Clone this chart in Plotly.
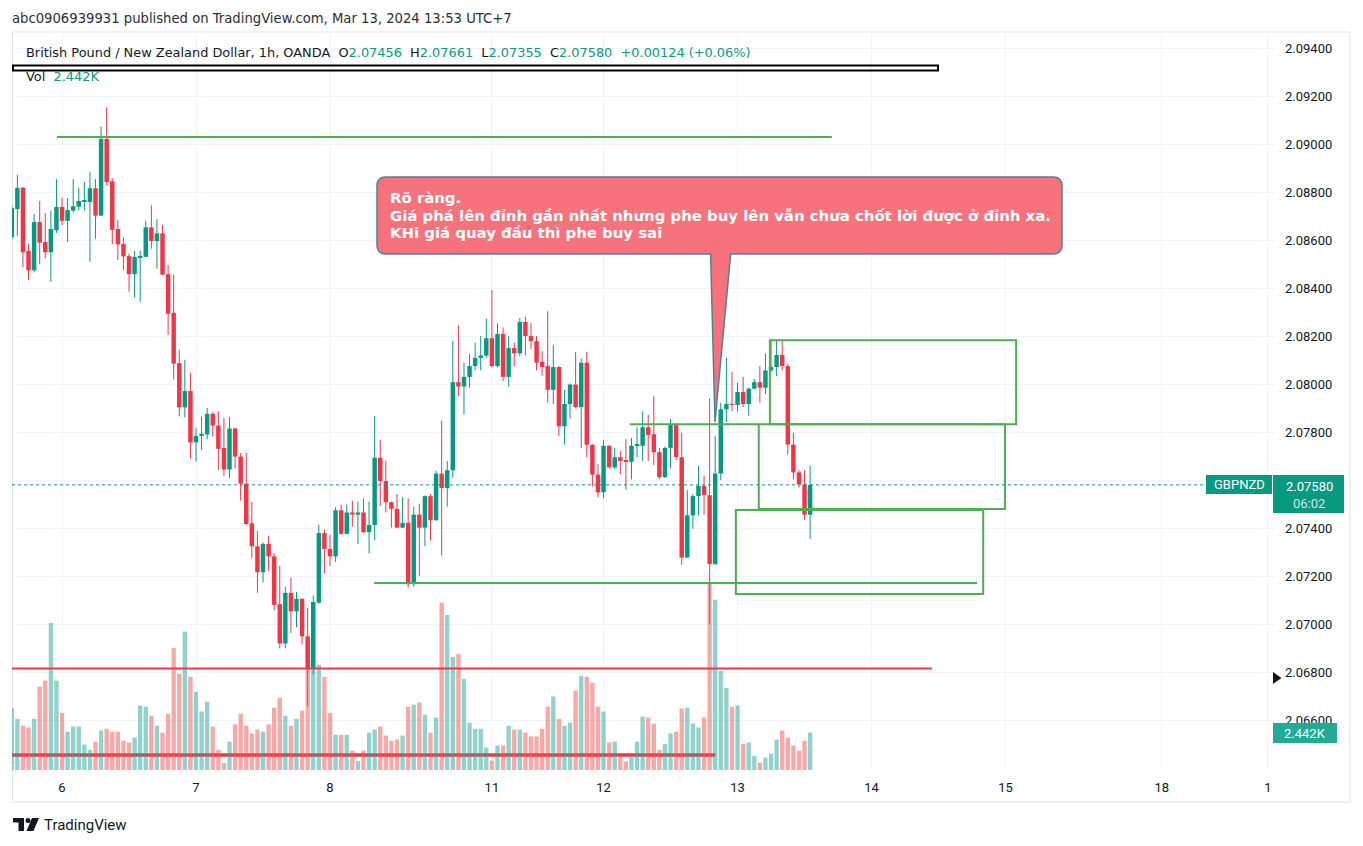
import plotly.graph_objects as go

# ---------------- data ----------------
bar_index = list(range(-9, 135))  # hourly bars; 0 = Mar 6 00:00 (UTC+7)

open_ = [2.08612, 2.08729, 2.08818, 2.08555, 2.08474, 2.08675, 2.08592, 2.08549, 2.08641,
         2.08738, 2.08680, 2.08723, 2.08739, 2.08759, 2.08759, 2.08816, 2.08702, 2.09021, 2.08845,
         2.08646, 2.08584, 2.08533, 2.08458, 2.08526, 2.08530, 2.08653, 2.08596, 2.08628, 2.08458,
         2.08297, 2.08087, 2.07903, 2.07971, 2.07757, 2.07784, 2.07790, 2.07876, 2.07827, 2.07734,
         2.07644, 2.07815, 2.07698, 2.07585, 2.07420, 2.07324, 2.07216, 2.07334, 2.07282, 2.07083,
         2.06919, 2.07130, 2.07053, 2.07105, 2.06949, 2.06813, 2.07089, 2.07379, 2.07313, 2.07282,
         2.07474, 2.07376, 2.07465, 2.07456, 2.07465, 2.07383, 2.07413, 2.07693, 2.07596, 2.07508,
         2.07480, 2.07402, 2.07422, 2.07166, 2.07456, 2.07402, 2.07533, 2.07433, 2.07627, 2.07567,
         2.07641, 2.08008, 2.07990, 2.08030, 2.08075, 2.08109, 2.08119, 2.08191, 2.08075, 2.08209,
         2.08030, 2.08150, 2.08128, 2.08259, 2.08200, 2.08179, 2.08093, 2.08075, 2.07976, 2.08071,
         2.07824, 2.07917, 2.07998, 2.07904, 2.08089, 2.07747, 2.07623, 2.07549, 2.07743, 2.07653,
         2.07695, 2.07680, 2.07676, 2.07743, 2.07743, 2.07820, 2.07791, 2.07716, 2.07612, 2.07734,
         2.07829, 2.07695, 2.07277, 2.07453, 2.07533, 2.07576, 2.07537, 2.07250, 2.07627, 2.07895,
         2.07917, 2.07913, 2.07967, 2.07917, 2.07981, 2.08008, 2.07985, 2.08057, 2.08071, 2.08121,
         2.08075, 2.07748, 2.07632, 2.07582, 2.07456]
high = [2.08745, 2.08872, 2.08822, 2.08585, 2.08709, 2.08763, 2.08713, 2.08723, 2.08854,
        2.08777, 2.08775, 2.08854, 2.08818, 2.08842, 2.08885, 2.08854, 2.09073, 2.09153, 2.08858,
        2.08684, 2.08612, 2.08544, 2.08555, 2.08555, 2.08680, 2.08745, 2.08687, 2.08662, 2.08496,
        2.08456, 2.08143, 2.08100, 2.08046, 2.07816, 2.07863, 2.07901, 2.07883, 2.07886, 2.07859,
        2.07863, 2.07818, 2.07713, 2.07713, 2.07510, 2.07388, 2.07340, 2.07368, 2.07295, 2.07243,
        2.07155, 2.07193, 2.07134, 2.07108, 2.07067, 2.07119, 2.07415, 2.07394, 2.07372, 2.07487,
        2.07498, 2.07498, 2.07514, 2.07510, 2.07523, 2.07510, 2.07867, 2.07768, 2.07680, 2.07510,
        2.07542, 2.07528, 2.07523, 2.07489, 2.07501, 2.07536, 2.07542, 2.07639, 2.07847, 2.07680,
        2.08180, 2.08245, 2.08089, 2.08125, 2.08173, 2.08200, 2.08272, 2.08392, 2.08254, 2.08236,
        2.08200, 2.08173, 2.08275, 2.08281, 2.08254, 2.08200, 2.08137, 2.08304, 2.08162, 2.08075,
        2.07976, 2.08003, 2.08134, 2.08107, 2.08134, 2.07750, 2.07666, 2.07768, 2.07745, 2.07734,
        2.07720, 2.07770, 2.07775, 2.07820, 2.07886, 2.07872, 2.07949, 2.07734, 2.07740, 2.07854,
        2.07838, 2.07797, 2.07558, 2.07541, 2.07659, 2.07618, 2.07940, 2.07784, 2.07922, 2.08110,
        2.08051, 2.08006, 2.08030, 2.07985, 2.08021, 2.08075, 2.08128, 2.08186, 2.08182, 2.08182,
        2.08084, 2.07797, 2.07641, 2.07641, 2.07661]
low = [2.08600, 2.08618, 2.08487, 2.08433, 2.08465, 2.08499, 2.08524, 2.08426, 2.08630,
       2.08662, 2.08592, 2.08714, 2.08723, 2.08723, 2.08510, 2.08605, 2.08700, 2.08827, 2.08582,
       2.08517, 2.08474, 2.08385, 2.08360, 2.08343, 2.08528, 2.08564, 2.08481, 2.08454, 2.08205,
       2.08019, 2.07865, 2.07861, 2.07689, 2.07677, 2.07725, 2.07770, 2.07782, 2.07641, 2.07618,
       2.07609, 2.07648, 2.07514, 2.07411, 2.07275, 2.07130, 2.07173, 2.07222, 2.07057, 2.06899,
       2.06899, 2.06963, 2.06987, 2.06915, 2.06659, 2.06790, 2.07085, 2.07211, 2.07243, 2.07259,
       2.07372, 2.07374, 2.07406, 2.07333, 2.07380, 2.07295, 2.07349, 2.07492, 2.07465, 2.07402,
       2.07400, 2.07400, 2.07152, 2.07155, 2.07200, 2.07325, 2.07349, 2.07430, 2.07286, 2.07489,
       2.07609, 2.07949, 2.07874, 2.07985, 2.08057, 2.08057, 2.08110, 2.08069, 2.08070, 2.08012,
       2.07990, 2.08075, 2.08116, 2.08120, 2.08146, 2.08057, 2.08035, 2.07922, 2.07917, 2.07784,
       2.07748, 2.07856, 2.07900, 2.07734, 2.07695, 2.07573, 2.07528, 2.07524, 2.07648, 2.07644,
       2.07623, 2.07560, 2.07603, 2.07695, 2.07680, 2.07680, 2.07662, 2.07603, 2.07608, 2.07648,
       2.07684, 2.07247, 2.07277, 2.07397, 2.07453, 2.07456, 2.06999, 2.07247, 2.07600, 2.07842,
       2.07886, 2.07886, 2.07904, 2.07868, 2.07978, 2.07922, 2.07958, 2.08050, 2.08033, 2.08057,
       2.07707, 2.07603, 2.07569, 2.07434, 2.07355]
close = [2.08734, 2.08818, 2.08549, 2.08474, 2.08675, 2.08589, 2.08549, 2.08646, 2.08738,
         2.08680, 2.08725, 2.08741, 2.08763, 2.08763, 2.08816, 2.08702, 2.09021, 2.08842, 2.08643,
         2.08582, 2.08532, 2.08458, 2.08530, 2.08533, 2.08653, 2.08596, 2.08628, 2.08456, 2.08293,
         2.08085, 2.07903, 2.07971, 2.07757, 2.07784, 2.07793, 2.07876, 2.07827, 2.07730, 2.07644,
         2.07815, 2.07698, 2.07585, 2.07417, 2.07324, 2.07216, 2.07334, 2.07282, 2.07080, 2.06919,
         2.07130, 2.07053, 2.07105, 2.06949, 2.06813, 2.07092, 2.07379, 2.07313, 2.07282, 2.07474,
         2.07376, 2.07465, 2.07456, 2.07465, 2.07383, 2.07413, 2.07693, 2.07596, 2.07508, 2.07480,
         2.07402, 2.07422, 2.07166, 2.07456, 2.07402, 2.07533, 2.07433, 2.07627, 2.07567, 2.07641,
         2.08008, 2.07990, 2.08030, 2.08075, 2.08109, 2.08119, 2.08191, 2.08075, 2.08209, 2.08030,
         2.08150, 2.08128, 2.08259, 2.08200, 2.08179, 2.08089, 2.08071, 2.07976, 2.08071, 2.07824,
         2.07917, 2.07998, 2.07904, 2.08089, 2.07747, 2.07623, 2.07549, 2.07743, 2.07653, 2.07695,
         2.07680, 2.07678, 2.07743, 2.07747, 2.07820, 2.07788, 2.07716, 2.07612, 2.07734, 2.07829,
         2.07695, 2.07277, 2.07453, 2.07533, 2.07576, 2.07537, 2.07250, 2.07627, 2.07895, 2.07917,
         2.07913, 2.07967, 2.07917, 2.07981, 2.08008, 2.07985, 2.08057, 2.08071, 2.08121, 2.08075,
         2.07748, 2.07632, 2.07582, 2.07456, 2.07580]
volume = [4070, 3340, 2890, 2780, 3340, 5450, 5840, 9600, 5840,
          3730, 2500, 2840, 2840, 1660, 1320, 1850, 2580, 2690, 2500,
          2500, 1910, 1800, 2110, 4210, 4130, 3540, 2890, 2440, 3680,
          7970, 6290, 9040, 6090, 5110, 3820, 4460, 2840, 1320, 450,
          1850, 2980, 3680, 2890, 2390, 2640, 2500, 2980, 4070, 4720,
          3540, 2890, 3340, 3870, 6600, 6700, 6880, 6090, 3730, 2300,
          2300, 2300, 1260, 590, 1260, 2440, 2640, 2840, 2250, 1910,
          1990, 2250, 4130, 4270, 4410, 3620, 2440, 3420, 10920, 10130,
          7380, 7580, 5950, 3090, 2690, 2690, 1460, 620, 1600, 1600,
          2890, 2640, 2640, 2440, 2190, 2190, 2690, 4130, 4800, 3340,
          2890, 3090, 5190, 6150, 6090, 5700, 4130, 3820, 1800, 1850,
          870, 560, 930, 1850, 3480, 3420, 3030, 1320, 1710, 2390,
          2500, 4010, 4070, 3030, 2780, 3420, 12180, 11120, 6480, 5360,
          4130, 4210, 1710, 1800, 930, 480, 810, 1070, 1990, 2580,
          2110, 1600, 1260, 1910, 2442]

tick_index = [0, 24, 48, 77, 97, 121, 145, 169, 197, 216]
tick_text = ["6", "7", "8", "11", "12", "13", "14", "15", "18", "1"]
price_ticks = [2.066, 2.068, 2.070, 2.072, 2.074, 2.076, 2.078, 2.080,
               2.082, 2.084, 2.086, 2.088, 2.090, 2.092, 2.094]
callout_lines = ["Rõ ràng.",
                 "Giá phá lên đỉnh gần nhất nhưng phe buy lên vẫn chưa chốt lời được ở đỉnh xa.",
                 "KHi giá quay đầu thì phe buy sai"]

# ---------------- styling ----------------
UP = "#089981"
DOWN = "#f23645"
TXT = "#131722"
GREEN = "#4caf50"
FONT = "Roboto"
HFONT = "DejaVu Sans"
W, H = 1363, 846
L, R, T, B = 12, 1275, 32, 770   # plot pane in pixels


def px(x):
    return (x - L) / (R - L)


def py(y):
    return (B - y) / (B - T)


up = [c >= o for o, c in zip(open_, close)]

fig = go.Figure()

# volume
fig.add_trace(go.Bar(
    x=bar_index, y=volume, yaxis="y2", width=0.78,
    marker=dict(color=["rgba(38,166,154,0.5)" if u else "rgba(239,83,80,0.5)" for u in up],
                line=dict(width=0)),
    hoverinfo="skip", showlegend=False))

# candles: wicks + bodies
for flag, col in ((True, UP), (False, DOWN)):
    wx, wy = [], []
    bx, bb, bh = [], [], []
    for i, o, h, l, c, u in zip(bar_index, open_, high, low, close, up):
        if u != flag:
            continue
        wx += [i, i, None]
        wy += [l, h, None]
        bx.append(i)
        bb.append(min(o, c))
        bh.append(max(abs(c - o), 0.00003))
    fig.add_trace(go.Scatter(x=wx, y=wy, mode="lines", line=dict(color=col, width=1),
                             hoverinfo="skip", showlegend=False))
    fig.add_trace(go.Bar(x=bx, y=bh, base=bb, width=0.8,
                         marker=dict(color=col, line=dict(width=0)),
                         hoverinfo="skip", showlegend=False))

shapes = []
# drawings in data coordinates
shapes.append(dict(type="line", xref="x", yref="y", x0=-8.96, x1=117.0, y0=2.06455, y1=2.06455,
                   line=dict(color=DOWN, width=3.5), layer="between"))
shapes.append(dict(type="line", xref="x", yref="y", x0=-0.9, x1=137.9, y0=2.09030, y1=2.09030,
                   line=dict(color=GREEN, width=2)))
shapes.append(dict(type="line", xref="x", yref="y", x0=55.9, x1=163.9, y0=2.07171, y1=2.07171,
                   line=dict(color=GREEN, width=2)))
shapes.append(dict(type="line", xref="x", yref="y", x0=-8.96, x1=155.8, y0=2.06815, y1=2.06815,
                   line=dict(color=DOWN, width=2)))
shapes.append(dict(type="line", xref="x", yref="y", x0=101.7, x1=124.8, y0=2.07833, y1=2.07833,
                   line=dict(color=GREEN, width=2)))
for x0, x1, y0, y1 in ((126.8, 170.9, 2.07833, 2.08183),
                       (124.8, 168.9, 2.07479, 2.07833),
                       (120.7, 165.0, 2.07125, 2.07475)):
    shapes.append(dict(type="rect", xref="x", yref="y", x0=x0, x1=x1, y0=y0, y1=y1,
                       line=dict(color=GREEN, width=2), fillcolor="rgba(0,0,0,0)"))

# current price dotted line
shapes.append(dict(type="line", xref="paper", yref="y", x0=0, x1=px(1206),
                   y0=close[-1], y1=close[-1], line=dict(color=UP, width=1, dash="dot")))


def P(x, y):
    return f"{px(x):.5f},{py(y):.5f}"


# callout balloon
r = 9
bx0, bx1, by0, by1 = 377, 1062, 177, 254
path = (f"M{P(bx0 + r, by0)} L{P(bx1 - r, by0)} Q{P(bx1, by0)} {P(bx1, by0 + r)} "
        f"L{P(bx1, by1 - r)} Q{P(bx1, by1)} {P(bx1 - r, by1)} "
        f"L{P(730.7, by1)} L{P(715, 422)} L{P(710.6, by1)} "
        f"L{P(bx0 + r, by1)} Q{P(bx0, by1)} {P(bx0, by1 - r)} "
        f"L{P(bx0, by0 + r)} Q{P(bx0, by0)} {P(bx0 + r, by0)} Z")
shapes.append(dict(type="path", xref="paper", yref="paper", path=path,
                   fillcolor="rgb(246,115,126)", line=dict(color="#4f8294", width=1.5),
                   layer="above"))

# black thin rectangle across the legend
shapes.append(dict(type="rect", xref="paper", yref="paper", x0=px(13), x1=px(938),
                   y0=py(65.5), y1=py(70.5), line=dict(color="black", width=2),
                   fillcolor="rgba(255,255,255,0)"))

# outer frame
shapes.append(dict(type="rect", xref="paper", yref="paper", x0=px(12.5), x1=px(1350),
                   y0=py(32), y1=py(802), line=dict(color="#e0e3eb", width=1),
                   fillcolor="rgba(0,0,0,0)", layer="below"))

# price axis labels (boxes)
shapes.append(dict(type="rect", xref="paper", yref="paper", x0=px(1206), x1=px(1272),
                   y0=py(475), y1=py(494), fillcolor=UP, line=dict(width=0)))
shapes.append(dict(type="rect", xref="paper", yref="paper", x0=px(1273), x1=px(1344),
                   y0=py(475), y1=py(513), fillcolor=UP, line=dict(width=0)))
shapes.append(dict(type="rect", xref="paper", yref="paper", x0=px(1273), x1=px(1337),
                   y0=py(723), y1=py(743), fillcolor="#22ab94", line=dict(width=0)))
# small black marker on price axis
shapes.append(dict(type="path", xref="paper", yref="paper",
                   path=f"M{P(1273, 672)} L{P(1281.5, 678)} L{P(1273, 684)} Z",
                   fillcolor=TXT, line=dict(width=0)))

# TradingView logo
shapes.append(dict(type="path", xref="paper", yref="paper",
                   path=f"M{P(13, 818)} L{P(24, 818)} L{P(24, 831)} L{P(18.5, 831)} "
                        f"L{P(18.5, 822.5)} L{P(13, 822.5)} Z",
                   fillcolor=TXT, line=dict(width=0)))
shapes.append(dict(type="circle", xref="paper", yref="paper", x0=px(25.5), x1=px(30.5),
                   y0=py(818), y1=py(823), fillcolor=TXT, line=dict(width=0)))
shapes.append(dict(type="path", xref="paper", yref="paper",
                   path=f"M{P(32, 818)} L{P(39, 818)} L{P(33.5, 831)} L{P(26.5, 831)} Z",
                   fillcolor=TXT, line=dict(width=0)))

ann = []


def text(x, y, s, size=13, color=TXT, xa="left", ya="middle", bold=False, family=FONT):
    ann.append(dict(xref="paper", yref="paper", x=px(x), y=py(y), text=s, showarrow=False,
                    xanchor=xa, yanchor=ya, align="left",
                    font=dict(family=family, size=size, color=color,
                              weight="bold" if bold else "normal")))


sp = "\u00a0\u00a0"
o, h, l, c = open_[-1], high[-1], low[-1], close[-1]
chg = close[-1] - close[-2]
pct = chg / close[-2] * 100


def g(v):
    return f'<span style="color:{UP}">{v}</span>'


text(10, 19, "abc0906939931 published on TradingView.com, Mar 13, 2024 13:53 UTC+7",
     size=13.2, family=HFONT, color="#2a2e39")
text(24, 53, "British Pound / New Zealand Dollar, 1h, OANDA" + sp +
     "O" + g(f"{o:.5f}") + sp + "H" + g(f"{h:.5f}") + sp + "L" + g(f"{l:.5f}") + sp +
     "C" + g(f"{c:.5f}") + sp + g(f"{chg:+.5f} ({pct:+.2f}%)"), size=12.9, family=HFONT)
text(24, 76, "Vol" + sp + g(f"{volume[-1] / 1000:.3f}K"), size=12.9, family=HFONT)

for line_txt, yy in zip(callout_lines, (197.5, 215.5, 232.5)):
    text(388, yy, line_txt, size=14.9, color="white", bold=True, family="DejaVu Sans")

text(1239, 485, "GBPNZD", size=13, color="white", xa="center")
text(1309, 486, f"{close[-1]:.5f}", size=13, color="white", xa="center")
text(1309, 503, "06:02", size=13, color="rgba(255,255,255,0.8)", xa="center")
text(1305, 733.5, f"{volume[-1] / 1000:.3f}K", size=13, color="white", xa="center")
text(42, 825, "TradingView", size=15)

# the 2.07600 label sits under the live-price box in the reference
price_text = ["" if abs(v - 2.076) < 1e-9 else f"{v:.5f}" for v in price_ticks]

fig.update_layout(
    width=W, height=H, margin=dict(l=L, r=W - R, t=T, b=H - B),
    paper_bgcolor="white", plot_bgcolor="white",
    barmode="overlay", showlegend=False,
    font=dict(family=FONT, size=13, color=TXT),
    xaxis=dict(range=[-8.96, 217.27], tickmode="array", tickvals=tick_index, ticktext=tick_text,
               showgrid=True, gridcolor="#f0f3fa", gridwidth=1, zeroline=False, showline=False,
               ticks="", ticklabelstandoff=8, tickfont=dict(family=FONT, size=13, color=TXT),
               fixedrange=True),
    yaxis=dict(side="right", range=[2.06392, 2.09467], tickmode="array", tickvals=price_ticks,
               ticktext=price_text, showgrid=True, gridcolor="#f0f3fa",
               zeroline=False, showline=False, ticks="", ticklabelstandoff=9,
               tickfont=dict(family=FONT, size=13, color=TXT)),
    yaxis2=dict(overlaying="y", range=[0, 48200], visible=False),
    shapes=shapes, annotations=ann,
)

fig.write_html("out.html")
